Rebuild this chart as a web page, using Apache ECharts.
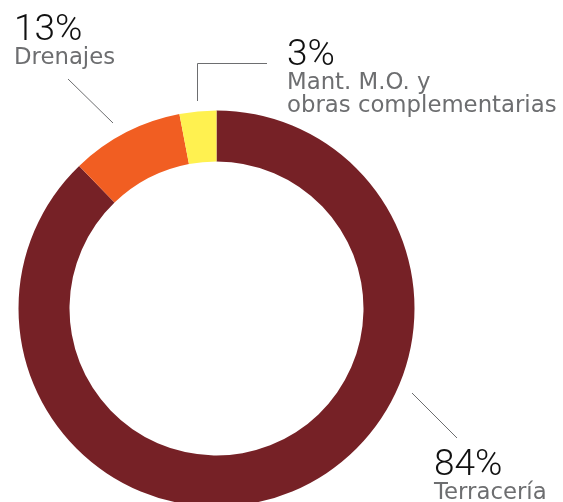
<!DOCTYPE html>
<html>
<head>
<meta charset="utf-8">
<script src="https://cdn.jsdelivr.net/npm/echarts@6/dist/echarts.min.js"></script>
<style>
	html, body { margin: 0; padding: 0; background: #fff; }
	#chart0 { width: 563px; height: 502px; }
</style>
</head>
<body>
<div id="chart0"></div>
<script>
'use strict';

// slices, clockwise from 12 o'clock
var categories = [ 'Terracería', 'Drenajes', 'Mant. M.O. y\nobras complementarias' ];
// arc share as drawn in the picture
var shares = [ 87.8, 9.2, 3.0 ];
// printed percentages
var percent_labels = [ '84%', '13%', '3%' ];

var slice_colors = [ '#762126', '#f15e22', '#fff150' ];
// label block top-left for each slice
var label_pos = [ [ 434, 449 ], [ 14, 14 ], [ 287, 39 ] ];

var chart0 = echarts.init(document.getElementById('chart0'), null, { renderer : 'canvas' });

var pie_data = [];
for (var i = 0; i < categories.length; i++) {
	pie_data.push({
		name : categories[i],
		value : shares[i],
		pct : percent_labels[i],
		itemStyle : { color : slice_colors[i] }
	});
}

var line_style = { stroke : '#6d6e70', lineWidth : 1 };

chart0.setOption({
	animation : false,
	backgroundColor : '#fff',
	series : [ {
		type : 'pie',
		center : [ 216.5, 308.5 ],
		radius : [ 147, 198 ],
		startAngle : 90,
		clockwise : true,
		silent : true,
		data : pie_data,
		label : {
			show : true,
			position : 'outside',
			overflow : 'none',
			formatter : function(p) {
				return '{p|' + p.data.pct + '}\n{n|' + p.name.split('\n').join('}\n{n|') + '}';
			},
			rich : {
				p : {
					fontFamily : 'Roboto',
					fontWeight : 300,
					fontSize : 37,
					lineHeight : 33,
					color : '#111'
				},
				n : {
					fontFamily : 'DejaVu Sans',
					fontSize : 22.8,
					lineHeight : 23,
					color : '#6d6e70'
				}
			}
		},
		labelLine : { show : false },
		labelLayout : function(params) {
			var pos = label_pos[params.dataIndex];
			return {
				x : pos[0],
				y : pos[1],
				align : 'left',
				verticalAlign : 'top',
				moveOverlap : false,
				hideOverlap : false
			};
		}
	} ],
	graphic : [ {
		type : 'polyline',
		shape : { points : [ [ 68, 79 ], [ 113, 123 ] ] },
		style : line_style
	}, {
		type : 'polyline',
		shape : { points : [ [ 197.5, 101 ], [ 197.5, 63.5 ], [ 267, 63.5 ] ] },
		style : line_style
	}, {
		type : 'polyline',
		shape : { points : [ [ 412, 393 ], [ 457, 438 ] ] },
		style : line_style
	} ]
});
</script>
</body>
</html>
